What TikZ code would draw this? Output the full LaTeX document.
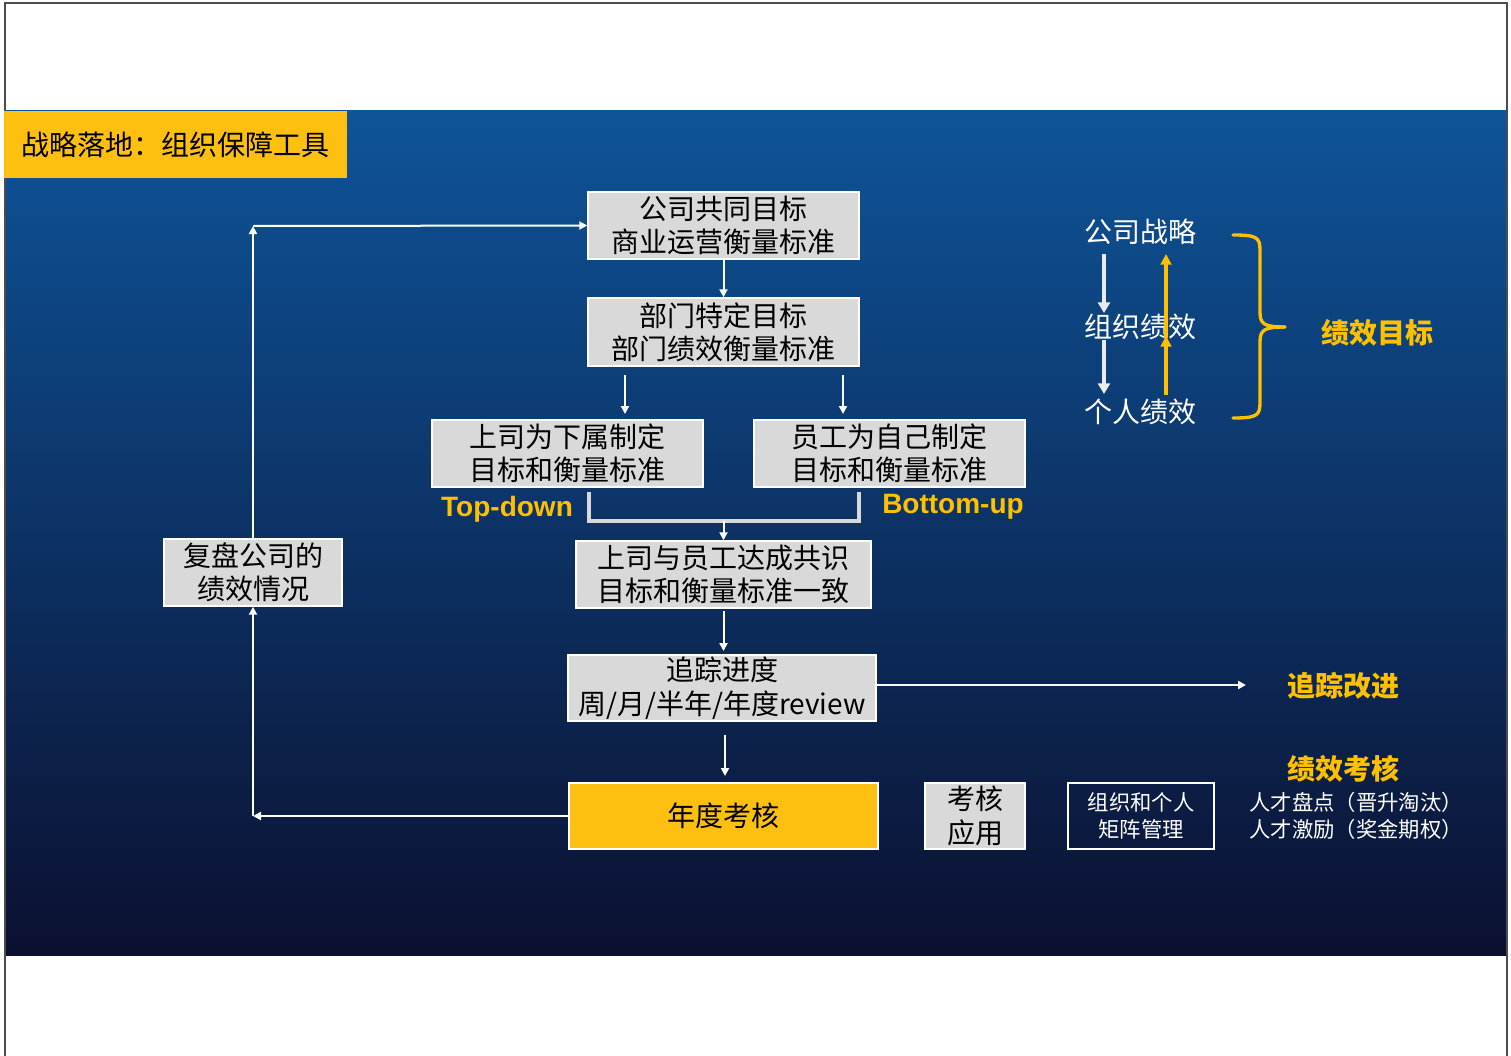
\documentclass[tikz,border=0pt]{standalone}
\usepackage{fontspec}
\setmainfont{Noto Sans CJK SC}
\newfontfamily\lat{Liberation Sans}
\usetikzlibrary{arrows.meta,calc}
\definecolor{gold}{RGB}{255,192,0}
\definecolor{boxgray}{RGB}{217,217,217}
\definecolor{ttl}{RGB}{253,192,16}
\definecolor{bandtop}{RGB}{14,84,153}
\definecolor{bandmid}{RGB}{30,58,115}
\definecolor{bandbot}{RGB}{11,16,48}
\begin{document}
\begin{tikzpicture}[x=0.75pt,y=-0.75pt,
  sz/.style 2 args={minimum width={#1*0.75pt},minimum height={#2*0.75pt}},
  box/.style={draw=white,line width=1.1pt,fill=boxgray,text=black,
    font=\fontsize{21}{25}\selectfont,align=center,inner sep=0pt},
  ybox/.style={box,fill=ttl},
  wtext/.style={text=white,font=\fontsize{21}{25}\selectfont,inner sep=0pt},
  ytext/.style={text=gold,font=\bfseries\fontsize{21}{25}\selectfont,inner sep=0pt},
  ltext/.style={text=gold,font=\lat\bfseries\fontsize{21}{25}\selectfont,inner sep=0pt},
  stext/.style={text=white,font=\fontsize{16}{20}\selectfont,align=center,inner sep=0pt},
  arr/.style={draw=white,line width=1.5pt,-{Triangle[length=6pt,width=6pt]}},
  yarr/.style={draw=gold,line width=2.5pt,-{Triangle[length=8pt,width=8pt]}},
  warr/.style={draw=white!92!black,line width=2.8pt,-{Triangle[length=8pt,width=9pt]}},
]
\useasboundingbox (0,0) rectangle (1511,1056);
\fill[white] (0,0) rectangle (1511,1056);
\shade[top color=bandtop,middle color=bandmid,bottom color=bandbot] (5,111) rectangle (1506,955);
\draw[black!70,line width=1.5pt] (4.5,1060) -- (4.5,3.5) -- (1506.5,3.5) -- (1506.5,1060);

% title
\node[fill=ttl,sz={343}{67},text=black,font=\fontsize{21}{25}\selectfont,inner sep=0pt] (title) at (175.5,144.5) {战略落地：组织保障工具};

% main flow boxes
\node[box,sz={271}{67}] (b1) at (723.5,225.5) {公司共同目标\\商业运营衡量标准};
\node[box,sz={271}{68}] (b2) at (723.5,332) {部门特定目标\\部门绩效衡量标准};
\node[box,sz={271}{67}] (b3) at (567.5,453.5) {上司为下属制定\\目标和衡量标准};
\node[box,sz={271}{67}] (b4) at (889.5,453.5) {员工为自己制定\\目标和衡量标准};
\node[box,sz={295}{67}] (b5) at (723.5,574.5) {上司与员工达成共识\\目标和衡量标准一致};
\node[box,sz={308}{66}] (b6) at (722,688) {追踪进度\\周/月/半年/年度review};
\node[ybox,sz={309}{66}] (b7) at (723.5,816) {年度考核};
\node[box,sz={178}{67}] (b8) at (253,572.5) {复盘公司的\\绩效情况};
\node[box,sz={100}{66}] (b9) at (975,816) {考核\\应用};
\node[draw=white,line width=1.1pt,sz={146}{66},stext] (b10) at (1141,816) {组织和个人\\矩阵管理};

% labels
\node[ltext] (td) at (507,509) {Top-down};
\node[ltext] (bu) at (953,507) {Bottom-up};
\node[ytext] (gz) at (1343,686) {追踪改进};
\node[ytext] (jk) at (1343,769) {绩效考核};
\node[stext,align=left] (rc) at (1356,816) {人才盘点（晋升淘汰）\\人才激励（奖金期权）};

% right top block
\node[wtext] (s1) at (1140,232) {公司战略};
\node[wtext] (s2) at (1140,327) {组织绩效};
\node[wtext] (s3) at (1140,412) {个人绩效};
\node[ytext] (mb) at (1377,333) {绩效目标};

% right top arrows
\coordinate (d1a) at (1104,254); \coordinate (d1b) at (1104,313);
\coordinate (d2a) at (1104,340); \coordinate (d2b) at (1104,394);
\coordinate (u1a) at (1166,338); \coordinate (u1b) at (1166,254);
\coordinate (u2a) at (1166,395); \coordinate (u2b) at (1166,336);
\draw[warr] (d1a) -- (d1b);
\draw[warr] (d2a) -- (d2b);
\draw[yarr] (u1a) -- (u1b);
\draw[yarr] (u2a) -- (u2b);

% brace
\draw[gold,line width=2.5pt,line cap=round]
  (1233,235) .. controls (1256,235) and (1260,237) .. (1260,250)
  -- (1260,312) .. controls (1260,324) and (1264,327) .. (1285,327);
\draw[gold,line width=2.5pt,line cap=round]
  (1233,418) .. controls (1256,418) and (1260,416) .. (1260,403)
  -- (1260,342) .. controls (1260,330) and (1264,327) .. (1285,327);

% connectors
\draw[arr] (b1.south) -- (b2.north);
\coordinate (a3s) at (625,375); \coordinate (a3e) at (625,414);
\coordinate (a4s) at (843,375); \coordinate (a4e) at (843,414);
\draw[arr] (a3s) -- (a3e);
\draw[arr] (a4s) -- (a4e);
\coordinate (j1) at (589,492); \coordinate (j2) at (859,492);
\coordinate (jm) at (723.5,521);
\draw[boxgray,line width=2.4pt] (j1) -- (589,521) -- (859,521) -- (j2);
\draw[arr] (jm) -- (b5.north);
\coordinate (a6s) at (723.5,611); \coordinate (a6e) at (723.5,651);
\draw[arr] (a6s) -- (a6e);
\coordinate (a7s) at (725,735); \coordinate (a7e) at (725,776);
\draw[arr] (a7s) -- (a7e);
\coordinate (gzt) at (1246,685);
\draw[arr] (b6.east |- gzt) -- (gzt);
\coordinate (c1) at (253,816);
\draw[arr] (b7.west) -- (c1);
\draw[arr] (c1) -- (b8.south);
\coordinate (c2) at (253,226);
\draw[arr] (b8.north) -- (c2);
\draw[arr] (c2) -- (b1.west);
\end{tikzpicture}
\end{document}
